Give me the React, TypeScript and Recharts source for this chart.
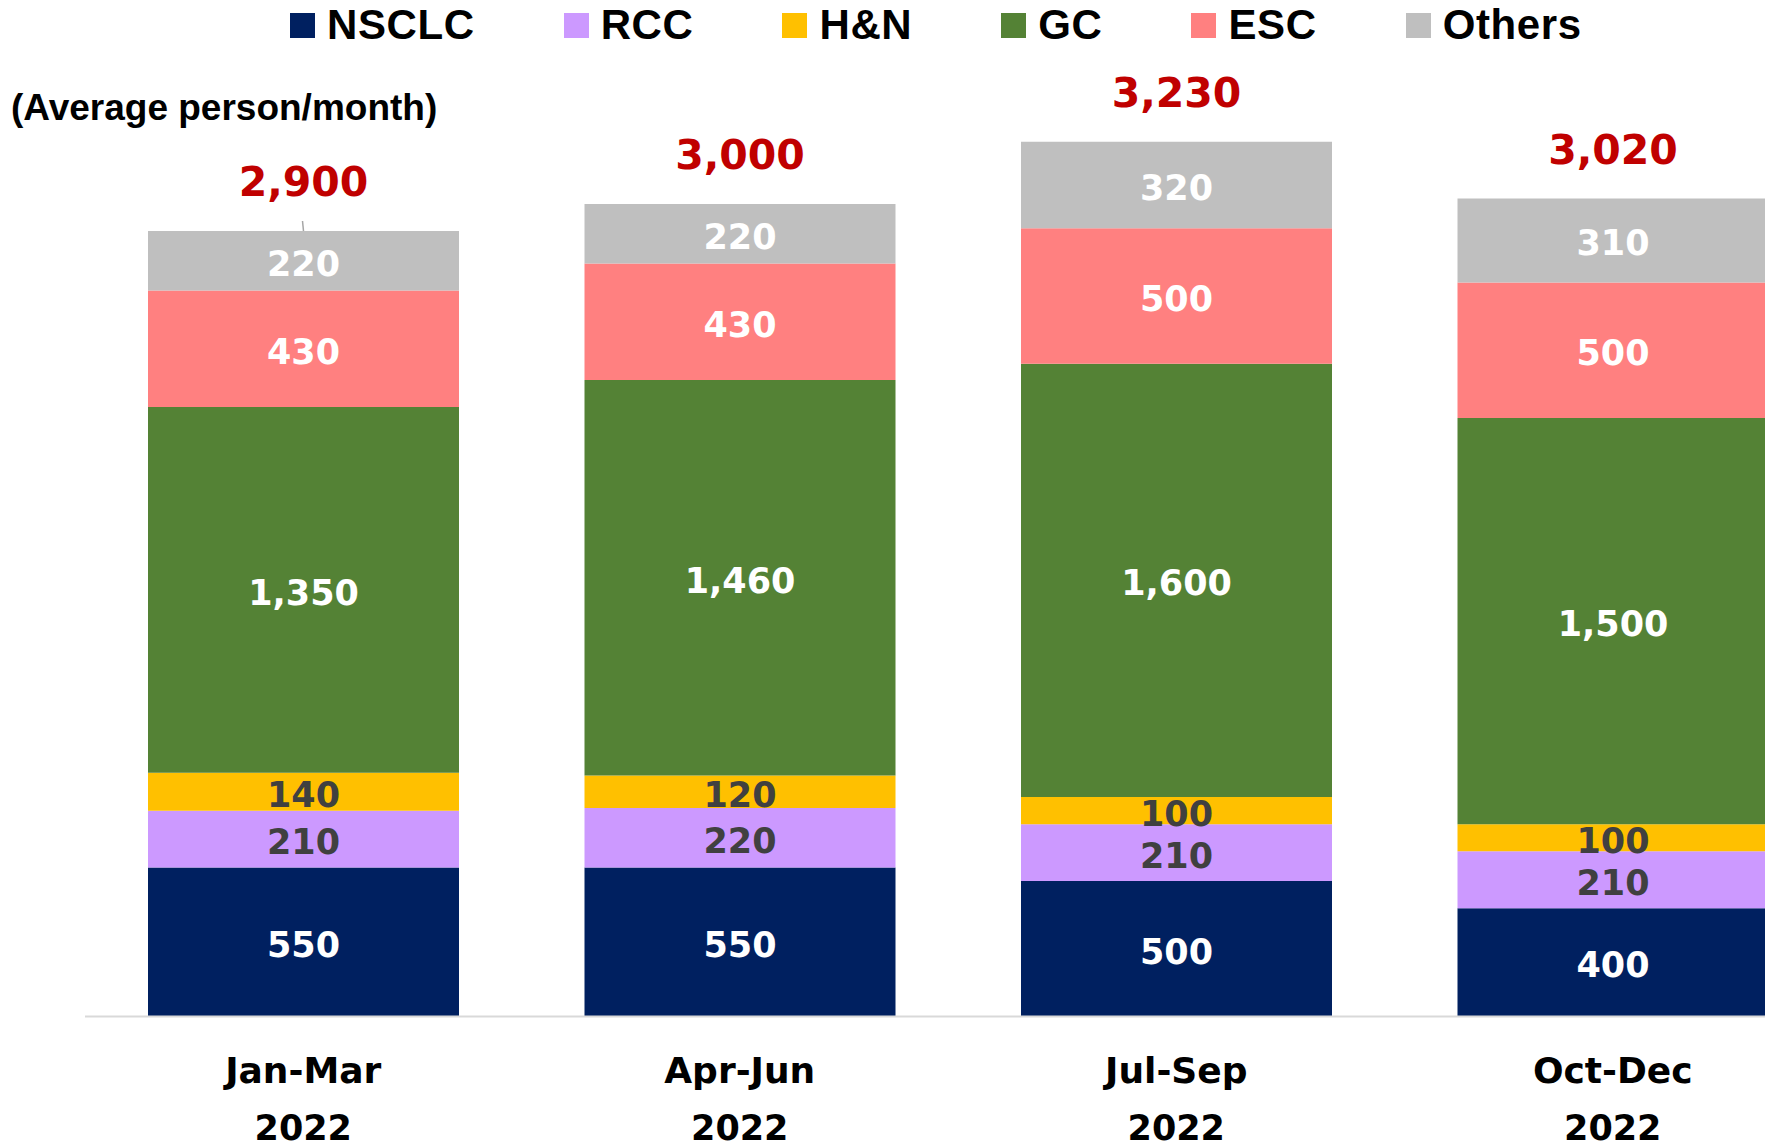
import React from "react";
import { BarChart, Bar, XAxis, YAxis, LabelList } from "recharts";

const quarters = ["Jan-Mar", "Apr-Jun", "Jul-Sep", "Oct-Dec"];
const years = ["2022", "2022", "2022", "2022"];
const nsclc = [550, 550, 500, 400];
const rcc = [210, 220, 210, 210];
const hn = [140, 120, 100, 100];
const gc = [1350, 1460, 1600, 1500];
const esc = [430, 430, 500, 500];
const others = [220, 220, 320, 310];
const totals = [2900, 3000, 3230, 3020];

const series = [
  { key: "nsclc", name: "NSCLC", color: "#002060", label: "#ffffff" },
  { key: "rcc", name: "RCC", color: "#CC99FF", label: "#404040" },
  { key: "hn", name: "H&N", color: "#FFC000", label: "#404040" },
  { key: "gc", name: "GC", color: "#548235", label: "#ffffff" },
  { key: "esc", name: "ESC", color: "#FF8080", label: "#ffffff" },
  { key: "others", name: "Others", color: "#BFBFBF", label: "#ffffff" },
];

const data = quarters.map((q, i) => ({
  q,
  year: years[i],
  nsclc: nsclc[i],
  rcc: rcc[i],
  hn: hn[i],
  gc: gc[i],
  esc: esc[i],
  others: others[i],
  total: totals[i],
}));

const LABEL_FONT = "'DejaVu Sans', Verdana, sans-serif";

const fmt = (v: any) => Number(v).toLocaleString("en-US");

const Tick = (props: any) => {
  const { x, y, payload } = props;
  const idx = payload?.index ?? 0;
  return (
    <g>
      <text
        x={x}
        y={y + 46}
        textAnchor="middle"
        dominantBaseline="central"
        fontFamily={LABEL_FONT}
        fontWeight="bold"
        fontSize={36}
        fill="#000000"
      >
        {payload.value}
      </text>
      <text
        x={x}
        y={y + 103}
        textAnchor="middle"
        dominantBaseline="central"
        fontFamily={LABEL_FONT}
        fontWeight="bold"
        fontSize={35}
        fill="#000000"
      >
        {years[idx]}
      </text>
    </g>
  );
};

const makeSegLabel = (color: string) => (props: any) => {
  const x = Number(props.x);
  const y = Number(props.y);
  const w = Number(props.width);
  const h = Number(props.height);
  return (
    <text
      x={x + w / 2}
      y={y + h / 2 + 3}
      textAnchor="middle"
      dominantBaseline="central"
      fontFamily={LABEL_FONT}
      fontWeight="bold"
      fontSize={35}
      fill={color}
    >
      {fmt(props.value)}
    </text>
  );
};

const TotalLabel = (props: any) => {
  const x = Number(props.x);
  const y = Number(props.y);
  const w = Number(props.width);
  const idx = props.index;
  const cx = x + w / 2;
  return (
    <g>
      {idx === 0 && (
        <line x1={cx - 1} y1={y - 10} x2={cx} y2={y} stroke="#A6A6A6" strokeWidth={1.5} />
      )}
      <text
        x={cx}
        y={y - 49}
        textAnchor="middle"
        dominantBaseline="central"
        fontFamily={LABEL_FONT}
        fontWeight="bold"
        fontSize={41}
        fill="#C00000"
      >
        {fmt(totals[idx])}
      </text>
    </g>
  );
};

export default function App() {
  return (
    <div
      style={{
        position: "absolute",
        left: 0,
        top: 0,
        width: 1765,
        height: 1147,
        overflow: "hidden",
        background: "#ffffff",
      }}
    >
      <BarChart
        width={1850}
        height={1147}
        data={data}
        margin={{ top: 68.5, right: 19, bottom: 0, left: 85 }}
      >
        <YAxis hide domain={[0, 3500]} />
        <XAxis
          dataKey="q"
          height={130.5}
          axisLine={{ stroke: "#D9D9D9", strokeWidth: 2 }}
          tickLine={false}
          tick={<Tick />}
          interval={0}
        />
        {series.map((s) => (
          <Bar
            key={s.key}
            dataKey={s.key}
            name={s.name}
            stackId="a"
            fill={s.color}
            barSize={311}
            isAnimationActive={false}
          >
            <LabelList dataKey={s.key} content={makeSegLabel(s.label)} />
            {s.key === "others" && <LabelList dataKey="others" content={<TotalLabel />} />}
          </Bar>
        ))}
      </BarChart>

      <div
        style={{
          position: "absolute",
          left: 290,
          top: 0,
          height: 50,
          display: "flex",
          alignItems: "center",
          gap: 89,
          fontFamily: "'Liberation Sans', Arial, sans-serif",
          fontWeight: "bold",
          fontSize: 42,
          color: "#000000",
          whiteSpace: "nowrap",
        }}
      >
        {series.map((s) => (
          <div key={s.key} style={{ display: "flex", alignItems: "center" }}>
            <div style={{ width: 25, height: 25, background: s.color, marginRight: 12 }} />
            <span style={{ letterSpacing: 0.6 }}>{s.name}</span>
          </div>
        ))}
      </div>

      <div
        style={{
          position: "absolute",
          left: 11,
          top: 86,
          lineHeight: "44px",
          fontFamily: "'Liberation Sans', Arial, sans-serif",
          fontWeight: "bold",
          fontSize: 37,
          color: "#000000",
          whiteSpace: "nowrap",
        }}
      >
        (Average person/month)
      </div>
    </div>
  );
}
